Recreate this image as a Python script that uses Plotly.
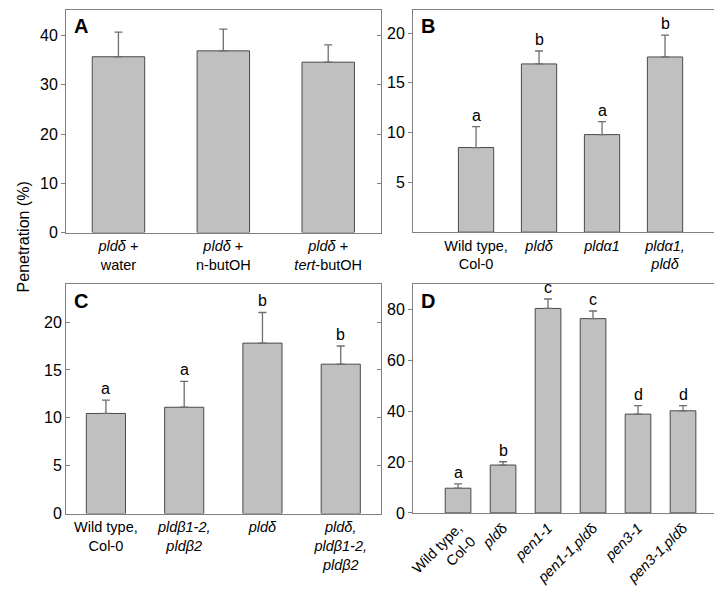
import plotly.graph_objects as go

# ---- data ----
a_labels = ["<i>pldδ</i> +<br>water", "<i>pldδ</i> +<br>n-butOH", "<i>pldδ</i> +<br><i>tert</i>-butOH"]
a_values = [35.7, 36.9, 34.6]
a_errors = [5.0, 4.4, 3.5]
a_letters = ["", "", ""]

b_labels = ["Wild type,<br>Col-0", "<i>pldδ</i>", "<i>pldα1</i>", "<i>pldα1,<br>pldδ</i>"]
b_values = [8.5, 16.9, 9.8, 17.6]
b_errors = [2.1, 1.3, 1.3, 2.2]
b_letters = ["a", "b", "a", "b"]

c_labels = ["Wild type,<br>Col-0", "<i>pldβ1-2,<br>pldβ2</i>", "<i>pldδ</i>", "<i>pldδ,<br>pldβ1-2,<br>pldβ2</i>"]
c_values = [10.45, 11.1, 17.8, 15.6]
c_errors = [1.4, 2.7, 3.2, 1.9]
c_letters = ["a", "a", "b", "b"]

d_labels = ["Wild type,<br>Col-0", "<i>pld</i>δ", "<i>pen1-1</i>", "<i>pen1-1</i>,<i>pld</i>δ",
            "<i>pen3-1</i>", "<i>pen3-1</i>,<i>pld</i>δ"]
d_values = [9.7, 18.8, 80.3, 76.3, 38.8, 40.1]
d_errors = [1.7, 1.3, 3.7, 3.0, 3.3, 2.0]
d_letters = ["a", "b", "c", "c", "d", "d"]

a_ticks = [0, 10, 20, 30, 40]
b_ticks = [5, 10, 15, 20]
c_ticks = [0, 5, 10, 15, 20]
d_ticks = [0, 20, 40, 60, 80]

W, H = 722, 593
FONT = "Liberation Sans, Arial, sans-serif"
FRAME = "#808080"
BAR_FILL = "#c0c0c0"
BAR_LINE = "#4a4a4a"
ERR = "#6e6e6e"

def px_x(a, b):
    return [a / W, b / W]

def px_y(top, bottom):
    return [1 - bottom / H, 1 - top / H]

panels = [
    dict(name="A", labels=a_labels, values=a_values, errors=a_errors, letters=a_letters,
         ticks=a_ticks, xd=px_x(54.3, 370.7), yd=px_y(1.7, 228.0), xr=[-0.5, 2.5], yr=[0, 45.26],
         width=0.5, tickdir="outside", angle=0),
    dict(name="B", labels=b_labels, values=b_values, errors=b_errors, letters=b_letters,
         ticks=b_ticks, xd=px_x(403.3, 720), yd=px_y(1.7, 227.6), xr=[-1, 4], yr=[0, 22.35],
         width=0.56, tickdir="outside", angle=0),
    dict(name="C", labels=c_labels, values=c_values, errors=c_errors, letters=c_letters,
         ticks=c_ticks, xd=px_x(54.3, 370.7), yd=px_y(280.5, 513.3), xr=[-0.51, 3.51], yr=[0, 23.95],
         width=0.5, tickdir="inside", angle=0),
    dict(name="D", labels=d_labels, values=d_values, errors=d_errors, letters=d_letters,
         ticks=d_ticks, xd=px_x(403.3, 720), yd=px_y(280.5, 512.7), xr=[-1, 6], yr=[0, 89.8],
         width=0.57, tickdir="outside", angle=-45),
]

fig = go.Figure()
annotations = []
layout = {}
for i, p in enumerate(panels):
    n = "" if i == 0 else str(i + 1)
    xa, ya = "x" + n, "y" + n
    k = str(i + 5)
    fig.add_trace(go.Bar(
        x=p["labels"], y=p["values"], xaxis=xa, yaxis=ya, width=p["width"],
        marker=dict(color=BAR_FILL, line=dict(color=BAR_LINE, width=1)),
        error_y=dict(type="data", symmetric=False, array=p["errors"],
                     arrayminus=[0] * len(p["errors"]), color=ERR, thickness=1.3, width=4),
        showlegend=False, hoverinfo="skip",
    ))
    # invisible trace so the right-hand tick axis is drawn
    fig.add_trace(go.Scatter(
        x=[p["labels"][0]], y=[p["values"][0]], xaxis=xa, yaxis="y" + k,
        mode="markers", marker=dict(opacity=0), showlegend=False, hoverinfo="skip",
    ))
    layout["xaxis" + n] = dict(
        domain=p["xd"], anchor=ya, type="category", range=p["xr"],
        showline=True, linecolor=FRAME, linewidth=1, mirror=True,
        ticks="", tickangle=p["angle"], showgrid=False, zeroline=False,
        tickfont=dict(family=FONT, size=14.5, color="black"), fixedrange=True,
    )
    layout["yaxis" + n] = dict(
        domain=p["yd"], anchor=xa, range=p["yr"], tickvals=p["ticks"],
        showline=True, linecolor=FRAME, linewidth=1, mirror=True,
        ticks=p["tickdir"], ticklen=4, tickcolor=FRAME, showgrid=False, zeroline=False,
        tickfont=dict(family=FONT, size=16, color="black"), fixedrange=True,
    )
    layout["yaxis" + k] = dict(
        overlaying=ya, anchor=xa, side="right", range=p["yr"], tickvals=p["ticks"],
        showline=False, ticks="inside", ticklen=4, tickcolor=FRAME,
        showticklabels=False, showgrid=False, zeroline=False, fixedrange=True,
    )
    annotations.append(dict(
        text="<b>%s</b>" % p["name"], xref=xa + " domain", yref=ya + " domain",
        x=0.018, y=0.985, xanchor="left", yanchor="top", showarrow=False,
        font=dict(family=FONT, size=20, color="black"),
    ))
    for lab, v, e, let in zip(p["labels"], p["values"], p["errors"], p["letters"]):
        if let:
            annotations.append(dict(
                text=let, xref=xa, yref=ya, x=lab, y=v + e, yanchor="bottom",
                showarrow=False, yshift=1,
                font=dict(family=FONT, size=16, color="black"),
            ))

annotations.append(dict(
    text="Penetration (%)", xref="paper", yref="paper", x=12 / W, y=1 - 232 / H,
    xanchor="center", yanchor="middle", textangle=-90, showarrow=False,
    font=dict(family=FONT, size=16, color="black"),
))

fig.update_layout(
    width=W, height=H, margin=dict(l=0, r=0, t=0, b=0),
    paper_bgcolor="white", plot_bgcolor="white",
    annotations=annotations, bargap=0.4, **layout,
)

fig.write_html("out.html")
